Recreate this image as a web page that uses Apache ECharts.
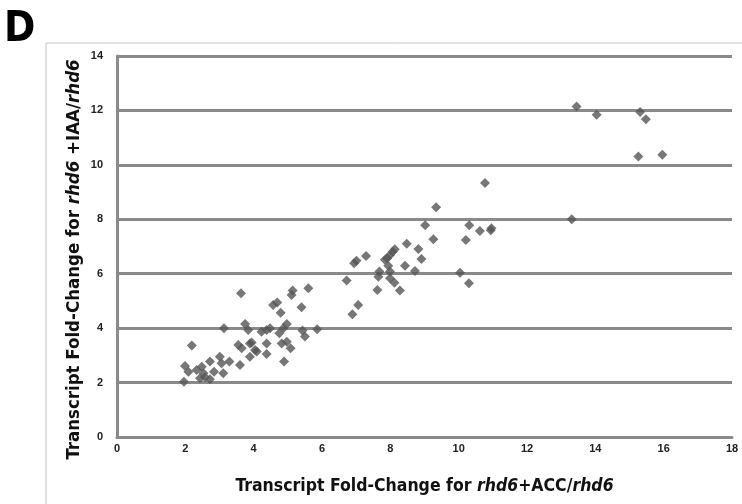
<!DOCTYPE html>
<html>
<head>
<meta charset="utf-8">
<script src="https://cdn.jsdelivr.net/npm/echarts@6/dist/echarts.min.js"></script>
<style>
  html, body { margin: 0; padding: 0; background: #fff; }
  #main { width: 742px; height: 504px; }
</style>
</head>
<body>
<div id="main"></div>
<script>
// 散点数据: [ACC fold-change, IAA fold-change]
var lowCluster = [
    [1.96, 2.03], [1.99, 2.61], [2.09, 2.40], [2.19, 3.36], [2.33, 2.46],
    [2.48, 2.58], [2.53, 2.34], [2.43, 2.16], [2.58, 2.20], [2.72, 2.12],
    [2.72, 2.77], [2.84, 2.40], [3.01, 2.95], [3.11, 2.34], [3.06, 2.71],
    [3.29, 2.77], [3.13, 4.00], [3.55, 3.38], [3.65, 3.26], [3.89, 3.44],
    [3.60, 2.65], [3.89, 2.95], [4.09, 3.14], [4.38, 3.44], [4.38, 3.05],
    [3.63, 5.28], [3.75, 4.15], [3.84, 3.93], [4.23, 3.87], [4.38, 3.93],
    [4.48, 4.00], [4.75, 3.81], [4.87, 4.00], [4.97, 4.15], [4.04, 3.20],
    [4.82, 3.44], [4.97, 3.50], [5.08, 3.26], [4.89, 2.77], [5.14, 5.38],
    [5.11, 5.22], [5.60, 5.47], [4.57, 4.85], [4.69, 4.94], [4.79, 4.57],
    [5.40, 4.77], [5.43, 3.91], [5.50, 3.69], [5.86, 3.96], [3.94, 3.47]
];
var midCluster = [
    [6.72, 5.75], [6.89, 4.51], [7.06, 4.85], [6.94, 6.38], [7.01, 6.48],
    [7.29, 6.65], [7.62, 5.40], [7.68, 6.08], [7.65, 5.89], [7.84, 6.51],
    [7.91, 6.57], [7.99, 6.69], [8.07, 6.81], [8.13, 6.90], [7.94, 6.29],
    [7.99, 6.08], [7.99, 5.83], [8.12, 5.67], [8.28, 5.38], [8.43, 6.29],
    [8.48, 7.10], [8.72, 6.10], [8.82, 6.91], [8.91, 6.54], [9.02, 7.78],
    [9.26, 7.27], [9.34, 8.44], [10.04, 6.04], [10.30, 5.65], [10.21, 7.24],
    [10.31, 7.78], [10.62, 7.57], [10.77, 9.33], [10.96, 7.67], [10.94, 7.60]
];
var highCluster = [
    [13.31, 8.00], [13.45, 12.14], [14.04, 11.84], [15.31, 11.94],
    [15.48, 11.68], [15.26, 10.31], [15.96, 10.37]
];
var allPoints = lowCluster.concat(midCluster, highCluster);

var xTitle = '{b|Transcript Fold-Change for }{i|rhd6}{b|+ACC/}{i|rhd6}';
var yTitle = '{b|Transcript Fold-Change for }{i|rhd6}{b| +IAA/}{i|rhd6}';

var titleFont = '"DejaVu Sans Condensed", "Liberation Sans", sans-serif';
function titleRich(size) {
    return {
        b: { fontFamily: titleFont, fontWeight: 'bold', fontSize: size, color: '#111' },
        i: { fontFamily: titleFont, fontWeight: 'bold', fontStyle: 'italic', fontSize: size, color: '#111' }
    };
}

var myChart = echarts.init(document.getElementById('main'));

var option = {
    animation: false,
    grid: {
        left: 117,
        right: 10,
        top: 56,
        bottom: 67
    },
    graphic: [{
        type: 'rect',
        shape: { x: 46, y: 43, width: 720, height: 480 },
        style: { fill: 'none', stroke: '#c4c4c4', lineWidth: 1 },
        z: -1
    }, {
        type: 'text',
        left: 4,
        top: 9,
        style: {
            text: 'D',
            fontFamily: titleFont,
            fontWeight: 'bold',
            fontSize: 42,
            fill: '#000'
        }
    }],
    xAxis: {
        type: 'value',
        min: 0,
        max: 18,
        interval: 2,
        name: xTitle,
        nameLocation: 'middle',
        nameGap: 40,
        nameTextStyle: { rich: titleRich(17.5) },
        axisLine: { show: true, lineStyle: { color: '#8a8a8a', width: 3 } },
        axisTick: { show: false },
        splitLine: { show: false },
        axisLabel: {
            margin: 6,
            fontFamily: 'Liberation Sans',
            fontWeight: 'bold',
            fontSize: 11,
            color: '#222'
        }
    },
    yAxis: {
        type: 'value',
        min: 0,
        max: 14,
        interval: 2,
        name: yTitle,
        nameLocation: 'middle',
        nameRotate: 90,
        nameGap: 33,
        nameMoveOverlap: false,
        nameTextStyle: { rich: titleRich(18.5), padding: [0, 26, 0, 0] },
        axisLine: { show: true, lineStyle: { color: '#8a8a8a', width: 3 } },
        axisTick: { show: false },
        splitLine: { show: true, lineStyle: { color: '#8a8a8a', width: 3 } },
        axisLabel: {
            margin: 14,
            fontFamily: 'Liberation Sans',
            fontWeight: 'bold',
            fontSize: 11,
            color: '#222'
        }
    },
    series: [{
        type: 'scatter',
        symbol: 'diamond',
        symbolSize: 10,
        itemStyle: { color: '#555555' },
        data: allPoints
    }]
};
myChart.setOption(option);
</script>
</body>
</html>
